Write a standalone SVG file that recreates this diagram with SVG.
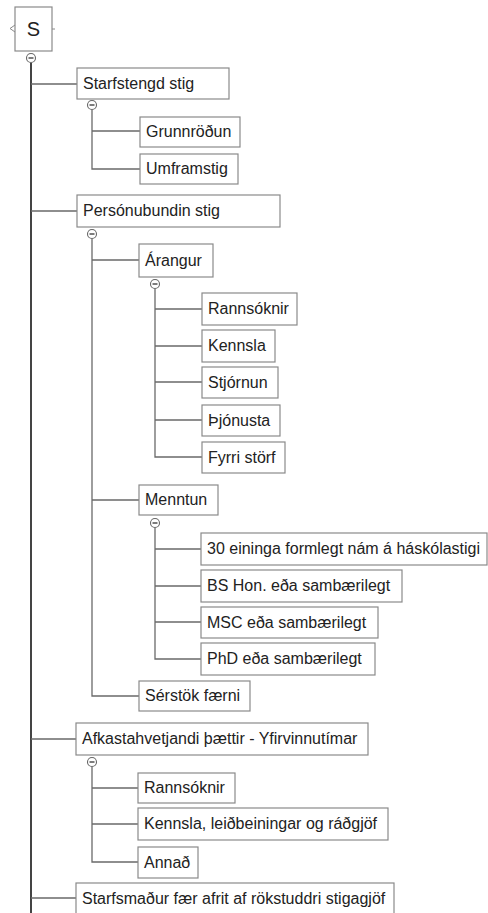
<svg xmlns="http://www.w3.org/2000/svg" width="488" height="913" viewBox="0 0 488 913">
<style>
.box{fill:#fff;stroke:#8a8a8a;stroke-width:1.2}
.t{font-family:"Liberation Sans",Arial,sans-serif;font-size:16px;fill:#222}
.c{fill:none;stroke:#6a6a6a;stroke-width:1.3}
.trunk{fill:none;stroke:#444;stroke-width:2}
.col{fill:#fff;stroke:#666;stroke-width:1.1}
.minus{stroke:#444;stroke-width:1.4}
</style>
<rect width="488" height="913" fill="#fff"/>
<g id="connectors">
<path class="trunk" d="M31,63 V913"/>
<path class="c" d="M31,84 H77 M31,211 H77 M31,739 H76 M31,898 H76"/>
<path class="c" d="M92,110 V169 H140 M92,131 H140"/>
<path class="c" d="M92,239 V696 H139 M92,260 H139 M92,500 H139"/>
<path class="c" d="M155,289 V457 H202 M155,309 H202 M155,346 H202 M155,382 H202 M155,420 H202"/>
<path class="c" d="M155,528 V659 H201 M155,549 H201 M155,586 H201 M155,622 H201"/>
<path class="c" d="M92,767 V862 H138 M92,788 H138 M92,824 H138"/>
</g>
<g id="n-root">
<rect class="box" x="15" y="7" width="37" height="44"/>
<path d="M15,25 L10,28.5 L15,32" fill="none" stroke="#888" stroke-width="1"/>
<path d="M52,29 H55" stroke="#888" stroke-width="1"/>
<text class="t" x="33.5" y="36" text-anchor="middle" style="font-size:20px">S</text>
<circle class="col" cx="31" cy="58" r="4.5"/><path class="minus" d="M28.5,58 H33.5"/>
</g>
<g id="n-starfstengd">
<rect class="box" x="77" y="68" width="152" height="31"/>
<text class="t" x="83" y="89">Starfstengd stig</text>
<circle class="col" cx="92" cy="105" r="4.5"/><path class="minus" d="M89.5,105 H94.5"/>
</g>
<g id="n-grunnrodun"><rect class="box" x="140" y="117" width="100" height="30"/><text class="t" x="146" y="137">Grunnröðun</text></g>
<g id="n-umframstig"><rect class="box" x="140" y="154" width="98" height="30"/><text class="t" x="146" y="174">Umframstig</text></g>
<g id="n-personubundin">
<rect class="box" x="77" y="195" width="203" height="32"/>
<text class="t" x="83" y="216">Persónubundin stig</text>
<circle class="col" cx="92" cy="234" r="4.5"/><path class="minus" d="M89.5,234 H94.5"/>
</g>
<g id="n-arangur">
<rect class="box" x="139" y="244" width="74" height="33"/>
<text class="t" x="145" y="266">Árangur</text>
<circle class="col" cx="155" cy="284" r="4.5"/><path class="minus" d="M152.5,284 H157.5"/>
</g>
<g id="n-rannsoknir1"><rect class="box" x="202" y="293" width="95" height="32"/><text class="t" x="208" y="314">Rannsóknir</text></g>
<g id="n-kennsla1"><rect class="box" x="202" y="330" width="73" height="32"/><text class="t" x="208" y="351">Kennsla</text></g>
<g id="n-stjornun"><rect class="box" x="202" y="367" width="76" height="31"/><text class="t" x="208" y="388">Stjórnun</text></g>
<g id="n-thjonusta"><rect class="box" x="202" y="405" width="78" height="31"/><text class="t" x="208" y="426">Þjónusta</text></g>
<g id="n-fyrri"><rect class="box" x="202" y="442" width="83" height="31"/><text class="t" x="208" y="463">Fyrri störf</text></g>
<g id="n-menntun">
<rect class="box" x="139" y="485" width="79" height="30"/>
<text class="t" x="145" y="505">Menntun</text>
<circle class="col" cx="155" cy="523" r="4.5"/><path class="minus" d="M152.5,523 H157.5"/>
</g>
<g id="n-30eininga"><rect class="box" x="201" y="533" width="286" height="32"/><text class="t" x="207" y="554">30 eininga formlegt nám á háskólastigi</text></g>
<g id="n-bshon"><rect class="box" x="201" y="570" width="201" height="32"/><text class="t" x="207" y="591">BS Hon. eða sambærilegt</text></g>
<g id="n-msc"><rect class="box" x="201" y="607" width="177" height="31"/><text class="t" x="207" y="628">MSC eða sambærilegt</text></g>
<g id="n-phd"><rect class="box" x="201" y="643" width="174" height="32"/><text class="t" x="207" y="664">PhD eða sambærilegt</text></g>
<g id="n-serstok"><rect class="box" x="139" y="681" width="111" height="30"/><text class="t" x="145" y="701">Sérstök færni</text></g>
<g id="n-afkasta">
<rect class="box" x="76" y="723" width="292" height="32"/>
<text class="t" x="82" y="744">Afkastahvetjandi þættir - Yfirvinnutímar</text>
<circle class="col" cx="92" cy="762" r="4.5"/><path class="minus" d="M89.5,762 H94.5"/>
</g>
<g id="n-rannsoknir2"><rect class="box" x="138" y="773" width="97" height="30"/><text class="t" x="144" y="793">Rannsóknir</text></g>
<g id="n-kennsla2"><rect class="box" x="138" y="808" width="250" height="32"/><text class="t" x="144" y="829">Kennsla, leiðbeiningar og ráðgjöf</text></g>
<g id="n-annad"><rect class="box" x="138" y="847" width="60" height="31"/><text class="t" x="144" y="868">Annað</text></g>
<g id="n-starfsmadur"><rect class="box" x="76" y="883" width="318" height="36"/><text class="t" x="82" y="904">Starfsmaður fær afrit af rökstuddri stigagjöf</text></g>
</svg>
